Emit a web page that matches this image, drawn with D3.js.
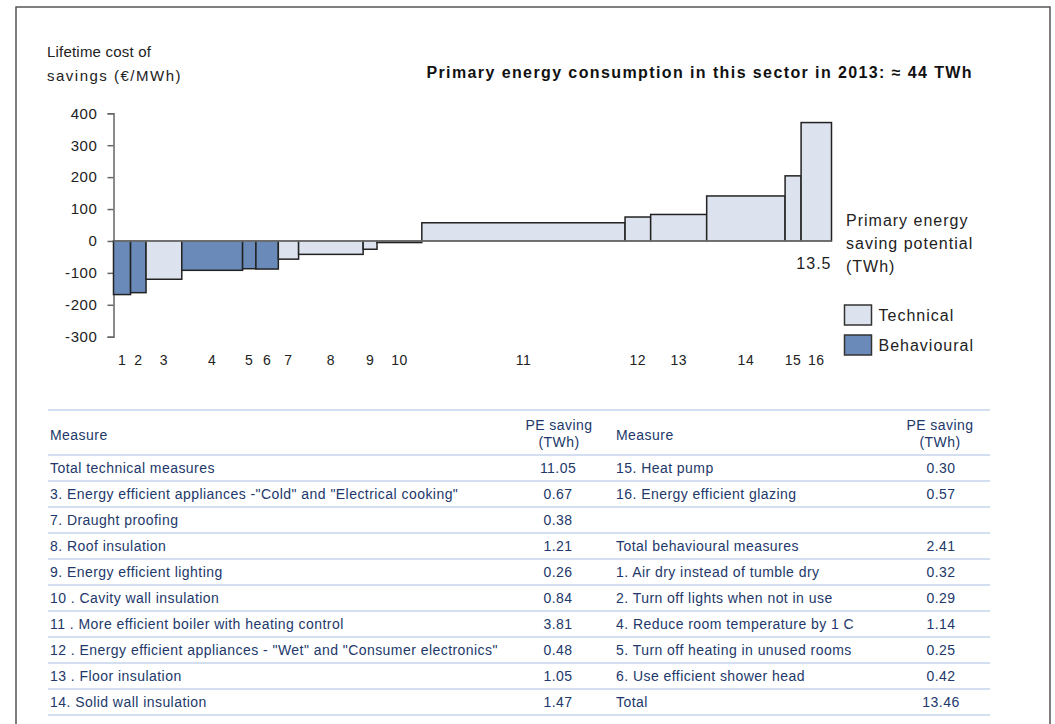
<!DOCTYPE html>
<html>
<head>
<meta charset="utf-8">
<script src="https://cdn.jsdelivr.net/npm/d3@7"></script>
<style>
  html, body { margin: 0; padding: 0; background: #fff; }
  svg { display: block; font-family: "Liberation Sans", Arial, sans-serif; }
</style>
</head>
<body>
<svg id="chart" width="1055" height="724"></svg>
<script>
// ---- Data ----
const measureIds = [1, 2, 3, 4, 5, 6, 7, 8, 9, 10, 11, 12, 13, 14, 15, 16];
const savingTWh = [0.32, 0.29, 0.67, 1.14, 0.25, 0.42, 0.38, 1.21, 0.26, 0.84, 3.81, 0.48, 1.05, 1.47, 0.30, 0.57];
const costPerMWh = [-168, -162, -120, -92, -87, -88, -57, -42, -26, -5, 57, 75, 83, 141, 204, 371];
const measureType = ["Behavioural", "Behavioural", "Technical", "Behavioural", "Behavioural", "Behavioural",
  "Technical", "Technical", "Technical", "Technical", "Technical", "Technical", "Technical", "Technical", "Technical", "Technical"];
const yTicks = [-300, -200, -100, 0, 100, 200, 300, 400];
const totalLabel = "13.5";
const legendItems = ["Technical", "Behavioural"];

const leftMeasures = [
  "Total technical measures",
  "3. Energy efficient appliances -\"Cold\" and \"Electrical cooking\"",
  "7. Draught proofing",
  "8. Roof insulation",
  "9. Energy efficient lighting",
  "10 . Cavity wall insulation",
  "11 . More efficient boiler with heating control",
  "12 . Energy efficient appliances - \"Wet\" and \"Consumer electronics\"",
  "13 . Floor insulation",
  "14. Solid wall insulation"
];
const leftValues = ["11.05", "0.67", "0.38", "1.21", "0.26", "0.84", "3.81", "0.48", "1.05", "1.47"];
const rightMeasures = [
  "15. Heat pump",
  "16. Energy efficient glazing",
  "",
  "Total behavioural measures",
  "1. Air dry instead of tumble dry",
  "2. Turn off lights when not in use",
  "4. Reduce room temperature by 1 C",
  "5. Turn off heating in unused rooms",
  "6. Use efficient shower head",
  "Total"
];
const rightValues = ["0.30", "0.57", "", "2.41", "0.32", "0.29", "1.14", "0.25", "0.42", "13.46"];

// ---- Setup ----
const svg = d3.select("#chart");
const colors = { Technical: "#dde3ee", Behavioural: "#6a8bba" };
const tableText = "#22386a";
const tableLine = "#d3dff1";

// frame
svg.append("rect").attr("x", 16).attr("y", 7).attr("width", 1034).attr("height", 740)
  .attr("fill", "none").attr("stroke", "#555").attr("stroke-width", 1.5);

// cumulative positions
const bars = [];
let cum = 0;
measureIds.forEach((id, i) => {
  bars.push({ id, x0: cum, x1: cum + savingTWh[i], v: costPerMWh[i], type: measureType[i] });
  cum += savingTWh[i];
});

const x = d3.scaleLinear().domain([0, cum]).range([113.5, 831.5]);
const y = d3.scaleLinear().domain([-300, 400]).range([336.7, 113.3]);

// y axis
const yAxis = d3.axisLeft(y).tickValues(yTicks).tickSize(6).tickPadding(10).tickFormat(d => String(d));
const gy = svg.append("g").attr("transform", `translate(${x(0)},0)`).call(yAxis);
gy.select(".domain").attr("stroke", "#666").attr("stroke-width", 1.5);
gy.selectAll(".tick line").attr("stroke", "#666").attr("stroke-width", 1.5);
gy.selectAll(".tick text").attr("font-size", 15).attr("fill", "#222")
  .attr("font-family", "'Liberation Sans', Arial, sans-serif").style("letter-spacing", "0.6px");

// bars
svg.append("g").selectAll("rect").data(bars).join("rect")
  .attr("x", d => x(d.x0))
  .attr("width", d => x(d.x1) - x(d.x0))
  .attr("y", d => y(Math.max(0, d.v)))
  .attr("height", d => Math.abs(y(d.v) - y(0)))
  .attr("fill", d => colors[d.type])
  .attr("stroke", "#222").attr("stroke-width", 1.5);

// zero line
svg.append("line").attr("x1", x(0)).attr("x2", x(cum)).attr("y1", y(0)).attr("y2", y(0))
  .attr("stroke", "#7a7a7a").attr("stroke-width", 1.5);

// x labels (bar numbers)
svg.append("g").selectAll("text").data(bars).join("text")
  .attr("x", d => x((d.x0 + d.x1) / 2))
  .attr("y", 365)
  .attr("text-anchor", "middle")
  .attr("font-size", 14).attr("fill", "#222").style("letter-spacing", "0.5px")
  .text(d => d.id);

// total label
svg.append("text").attr("x", x(cum)).attr("y", 269).attr("text-anchor", "end")
  .attr("font-size", 16).attr("fill", "#222").style("letter-spacing", "1px").text(totalLabel);

// axis titles
const yTitle = svg.append("text").attr("font-size", 15).attr("fill", "#222");
yTitle.append("tspan").attr("x", 47).attr("y", 57).style("letter-spacing", "0.2px").text("Lifetime cost of");
yTitle.append("tspan").attr("x", 47).attr("y", 81).style("letter-spacing", "1.5px").text("savings (€/MWh)");

svg.append("text").attr("x", 973).attr("y", 78).attr("text-anchor", "end")
  .attr("font-size", 16).attr("font-weight", "bold").attr("fill", "#111")
  .style("letter-spacing", "1.4px")
  .text("Primary energy consumption in this sector in 2013: ≈ 44 TWh");

const xTitle = svg.append("text").attr("font-size", 16).attr("fill", "#222").style("letter-spacing", "1px");
["Primary energy", "saving potential", "(TWh)"].forEach((t, i) => {
  xTitle.append("tspan").attr("x", 846).attr("y", 226 + i * 23).text(t);
});

// legend
const lg = svg.append("g").selectAll("g").data(legendItems).join("g")
  .attr("transform", (d, i) => `translate(844.5,${305 + i * 30})`);
lg.append("rect").attr("width", 27).attr("height", 20).attr("fill", d => colors[d])
  .attr("stroke", "#333").attr("stroke-width", 1.5);
lg.append("text").attr("x", 34).attr("y", 16).attr("font-size", 16).attr("fill", "#222")
  .style("letter-spacing", "1px").text(d => d);

// ---- Table ----
const rowIdx = d3.range(leftMeasures.length);
const rows = d3.scaleBand().domain(rowIdx).range([455, 715]);
const tLeft = 48, tRight = 990;
const lineYs = [410, ...rowIdx.map(i => rows(i)), 715];
svg.append("g").selectAll("line").data(lineYs).join("line")
  .attr("x1", tLeft).attr("x2", tRight).attr("y1", d => d).attr("y2", d => d)
  .attr("stroke", tableLine).attr("stroke-width", 2);

const tab = svg.append("g").attr("font-size", 14).attr("fill", tableText).style("letter-spacing", "0.45px");
// header
tab.append("text").attr("x", 50).attr("y", 440).text("Measure");
tab.append("text").attr("x", 616).attr("y", 440).text("Measure");
[559, 940].forEach(cx => {
  tab.append("text").attr("x", cx).attr("y", 430).attr("text-anchor", "middle").text("PE saving");
  tab.append("text").attr("x", cx).attr("y", 447).attr("text-anchor", "middle").text("(TWh)");
});
const rowY = i => rows(i) + rows.bandwidth() / 2 + 5;
tab.append("g").selectAll("text").data(leftMeasures).join("text")
  .attr("x", 50).attr("y", (d, i) => rowY(i)).text(d => d);
tab.append("g").selectAll("text").data(leftValues).join("text")
  .attr("x", 558).attr("y", (d, i) => rowY(i)).attr("text-anchor", "middle").text(d => d);
tab.append("g").selectAll("text").data(rightMeasures).join("text")
  .attr("x", 616).attr("y", (d, i) => rowY(i)).text(d => d);
tab.append("g").selectAll("text").data(rightValues).join("text")
  .attr("x", 941).attr("y", (d, i) => rowY(i)).attr("text-anchor", "middle").text(d => d);
</script>
</body>
</html>
